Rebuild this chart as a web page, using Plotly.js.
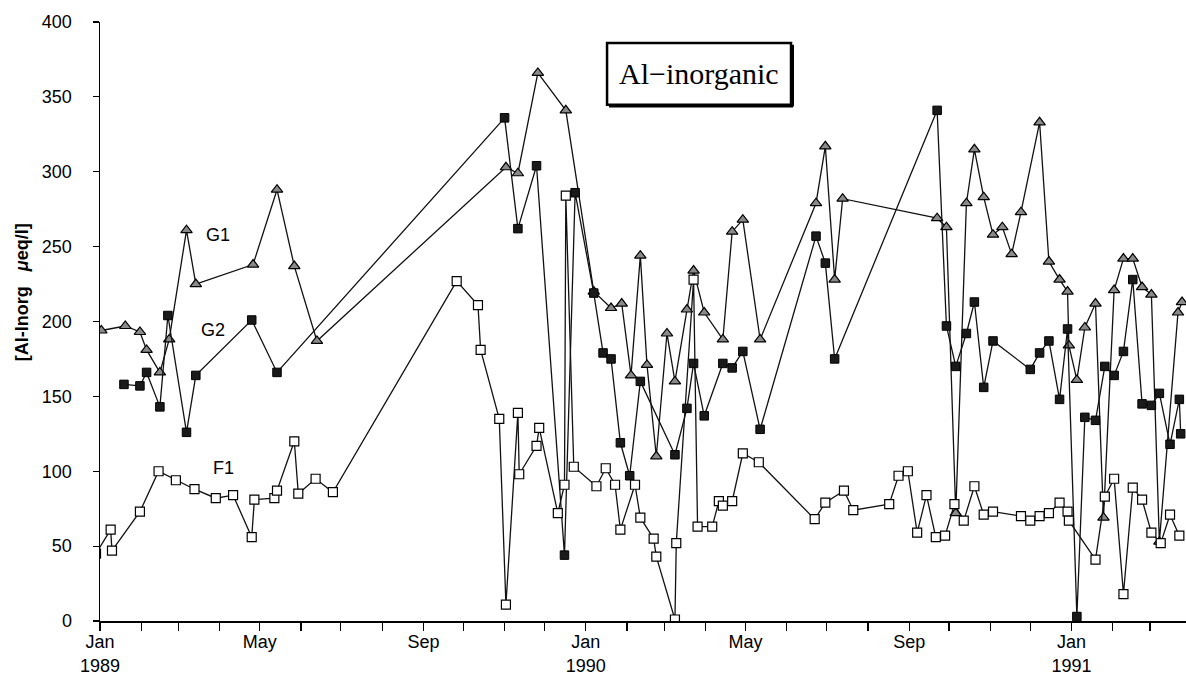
<!DOCTYPE html>
<html>
<head>
<meta charset="utf-8">
<script src="https://cdn.plot.ly/plotly-3.0.1.min.js"></script>
<style>html,body{margin:0;padding:0;background:#fff;}#chart{width:1186px;height:679px;}</style>
</head>
<body>
<div id="chart"></div>
<script>
// ---- Data ----
const g1Dates = ["1989-01-02","1989-01-20","1989-01-31","1989-02-05","1989-02-15","1989-02-22","1989-03-07","1989-03-14","1989-04-26","1989-05-14","1989-05-27","1989-06-13",
  "1989-11-02","1989-11-11","1989-11-26","1989-12-17","1990-01-07","1990-01-20","1990-01-28","1990-02-04","1990-02-11","1990-02-16","1990-02-23","1990-03-03","1990-03-09","1990-03-18","1990-03-23","1990-03-31","1990-04-14","1990-04-21","1990-04-29","1990-05-12",
  "1990-06-23","1990-06-30","1990-07-07","1990-07-13","1990-09-22","1990-09-29","1990-10-06","1990-10-14","1990-10-20","1990-10-27","1990-11-03","1990-11-10","1990-11-17","1990-11-24","1990-12-08","1990-12-15","1990-12-23","1990-12-29","1990-12-30",
  "1991-01-05","1991-01-11","1991-01-19","1991-01-25","1991-02-02","1991-02-09","1991-02-16","1991-02-23","1991-03-02","1991-03-08","1991-03-22","1991-03-25"];
const g1Values = [194,197,193,181,166,188,261,225,238,288,237,187,
  303,299,366,341,220,209,212,164,244,171,110,192,160,208,234,206,188,260,268,188,
  279,317,228,282,269,263,72,279,315,283,258,263,245,273,333,240,228,220,184,
  161,196,212,69,221,242,242,223,218,53,206,213];

const g2Dates = ["1989-01-19","1989-01-31","1989-02-05","1989-02-15","1989-02-21","1989-03-07","1989-03-14","1989-04-25","1989-05-14",
  "1989-11-01","1989-11-11","1989-11-25","1989-12-16","1989-12-24","1990-01-07","1990-01-14","1990-01-20","1990-01-27","1990-02-03","1990-02-11","1990-03-09","1990-03-18","1990-03-23","1990-03-31","1990-04-14","1990-04-21","1990-04-29","1990-05-12",
  "1990-06-23","1990-06-30","1990-07-07","1990-09-22","1990-09-29","1990-10-06","1990-10-14","1990-10-20","1990-10-27","1990-11-03","1990-12-01","1990-12-08","1990-12-15","1990-12-23","1990-12-29",
  "1991-01-05","1991-01-11","1991-01-19","1991-01-26","1991-02-02","1991-02-09","1991-02-16","1991-02-23","1991-03-02","1991-03-08","1991-03-16","1991-03-23","1991-03-24"];
const g2Values = [158,157,166,143,204,126,164,201,166,
  336,262,304,44,286,219,179,175,119,97,160,111,142,172,137,172,169,180,128,
  257,239,175,341,197,170,192,213,156,187,168,179,187,148,195,
  3,136,134,170,164,180,228,145,144,152,118,148,125];

const f1Dates = ["1988-12-29","1989-01-09","1989-01-10","1989-01-31","1989-02-14","1989-02-27","1989-03-13","1989-03-29","1989-04-11","1989-04-25","1989-04-27","1989-05-12","1989-05-14","1989-05-27","1989-05-30","1989-06-12","1989-06-25",
  "1989-09-26","1989-10-12","1989-10-14","1989-10-28","1989-11-02","1989-11-11","1989-11-12","1989-11-25","1989-11-27","1989-12-11","1989-12-16","1989-12-17","1989-12-23",
  "1990-01-09","1990-01-16","1990-01-23","1990-01-27","1990-02-07","1990-02-11","1990-02-21","1990-02-23","1990-03-09","1990-03-10","1990-03-23","1990-03-26","1990-04-06","1990-04-11","1990-04-14","1990-04-21","1990-04-29","1990-05-11",
  "1990-06-22","1990-06-30","1990-07-14","1990-07-21","1990-08-17","1990-08-24","1990-08-31","1990-09-07","1990-09-14","1990-09-21","1990-09-28","1990-10-05","1990-10-12","1990-10-20","1990-10-27","1990-11-03","1990-11-24","1990-12-01","1990-12-08","1990-12-15","1990-12-23","1990-12-29","1990-12-30",
  "1991-01-19","1991-01-26","1991-02-02","1991-02-09","1991-02-16","1991-02-23","1991-03-02","1991-03-09","1991-03-16","1991-03-23"];
const f1Values = [45,61,47,73,100,94,88,82,84,56,81,82,87,120,85,95,86,
  227,211,181,135,11,139,98,117,129,72,91,284,103,
  90,102,91,61,91,69,55,43,1,52,228,63,63,80,77,80,112,106,
  68,79,87,74,78,97,100,59,84,56,57,78,67,90,71,73,70,67,70,72,79,73,67,
  41,83,95,18,89,81,59,52,71,57];

const seriesNames = ["G1","G2","F1"];
const yTicks = [0,50,100,150,200,250,300,350,400];
const monthTicks = ["1989-01-01","1989-02-01","1989-03-01","1989-04-01","1989-05-01","1989-06-01","1989-07-01","1989-08-01","1989-09-01","1989-10-01","1989-11-01","1989-12-01",
  "1990-01-01","1990-02-01","1990-03-01","1990-04-01","1990-05-01","1990-06-01","1990-07-01","1990-08-01","1990-09-01","1990-10-01","1990-11-01","1990-12-01",
  "1991-01-01","1991-02-01","1991-03-01"];
const monthLabels = ["Jan<br>1989","","","","May","","","","Sep","","","",
  "Jan<br>1990","","","","May","","","","Sep","","","",
  "Jan<br>1991","",""];

const lineStyle = {color:"#111", width:1.3};
const traces = [
  {x:g1Dates, y:g1Values, name:seriesNames[0], mode:"lines+markers", line:lineStyle,
   marker:{symbol:"triangle-up", size:10, color:"#8a8a8a", line:{color:"#000", width:1.2}}},
  {x:g2Dates, y:g2Values, name:seriesNames[1], mode:"lines+markers", line:lineStyle,
   marker:{symbol:"square", size:8.5, color:"#1a1a1a", line:{color:"#000", width:1}}},
  {x:f1Dates, y:f1Values, name:seriesNames[2], mode:"lines+markers", line:lineStyle,
   marker:{symbol:"square", size:9, color:"#fff", line:{color:"#000", width:1.2}}}
];

const font = {family:"Liberation Sans, Arial, sans-serif", size:18, color:"#000"};
const layout = {
  width:1186, height:679,
  margin:{l:100, r:0, t:22, b:58},
  paper_bgcolor:"#fff", plot_bgcolor:"#fff",
  showlegend:false,
  font:font,
  xaxis:{type:"date", range:["1989-01-01","1991-03-28"], tickmode:"array", tickvals:monthTicks, ticktext:monthLabels,
    ticks:"outside", ticklen:8, tickwidth:1.2, tickcolor:"#000", showgrid:false, zeroline:false,
    showline:true, linecolor:"#000", linewidth:1.5, tickfont:{size:18}, tickangle:0, ticklabelstandoff:-4},
  yaxis:{range:[0,400], tickmode:"array", tickvals:yTicks, ticks:"outside", ticklen:6, tickwidth:1.2, tickcolor:"#000",
    showgrid:false, zeroline:false, showline:true, linecolor:"#000", linewidth:1.5, tickfont:{size:18},
    ticklabelstandoff:17},
  shapes:[
    {type:"rect", xref:"paper", yref:"paper", x0:0.4669, x1:0.6363, y0:0.862, y1:0.965, line:{color:"#000", width:2.5}, fillcolor:"#fff"},
    {type:"line", xref:"paper", yref:"paper", x0:0.6381, x1:0.6381, y0:0.859, y1:0.962, line:{color:"#000", width:2}},
    {type:"line", xref:"paper", yref:"paper", x0:0.4687, x1:0.6381, y0:0.859, y1:0.859, line:{color:"#000", width:2}}
  ],
  annotations:[
    {xref:"paper", yref:"paper", x:0.5516, y:0.9135, xanchor:"center", yanchor:"middle", text:"Al−inorganic", showarrow:false,
     font:{family:"Liberation Serif, Times New Roman, serif", size:30, color:"#000"}},
    {xref:"paper", yref:"paper", x:-0.0718, y:0.549, xanchor:"center", yanchor:"middle", textangle:-90, showarrow:false,
     text:"<b>[Al-Inorg   <i>μ</i>eq/l]</b>", font:{size:18}},
    {xref:"paper", yref:"paper", x:0.1087, y:0.6444, xanchor:"center", yanchor:"middle", text:seriesNames[0], showarrow:false, font:{size:18}},
    {xref:"paper", yref:"paper", x:0.1040, y:0.4858, xanchor:"center", yanchor:"middle", text:seriesNames[1], showarrow:false, font:{size:18}},
    {xref:"paper", yref:"paper", x:0.1133, y:0.2554, xanchor:"center", yanchor:"middle", text:seriesNames[2], showarrow:false, font:{size:18}}
  ]
};
Plotly.newPlot("chart", traces, layout, {staticPlot:true, displayModeBar:false});
</script>
</body>
</html>
